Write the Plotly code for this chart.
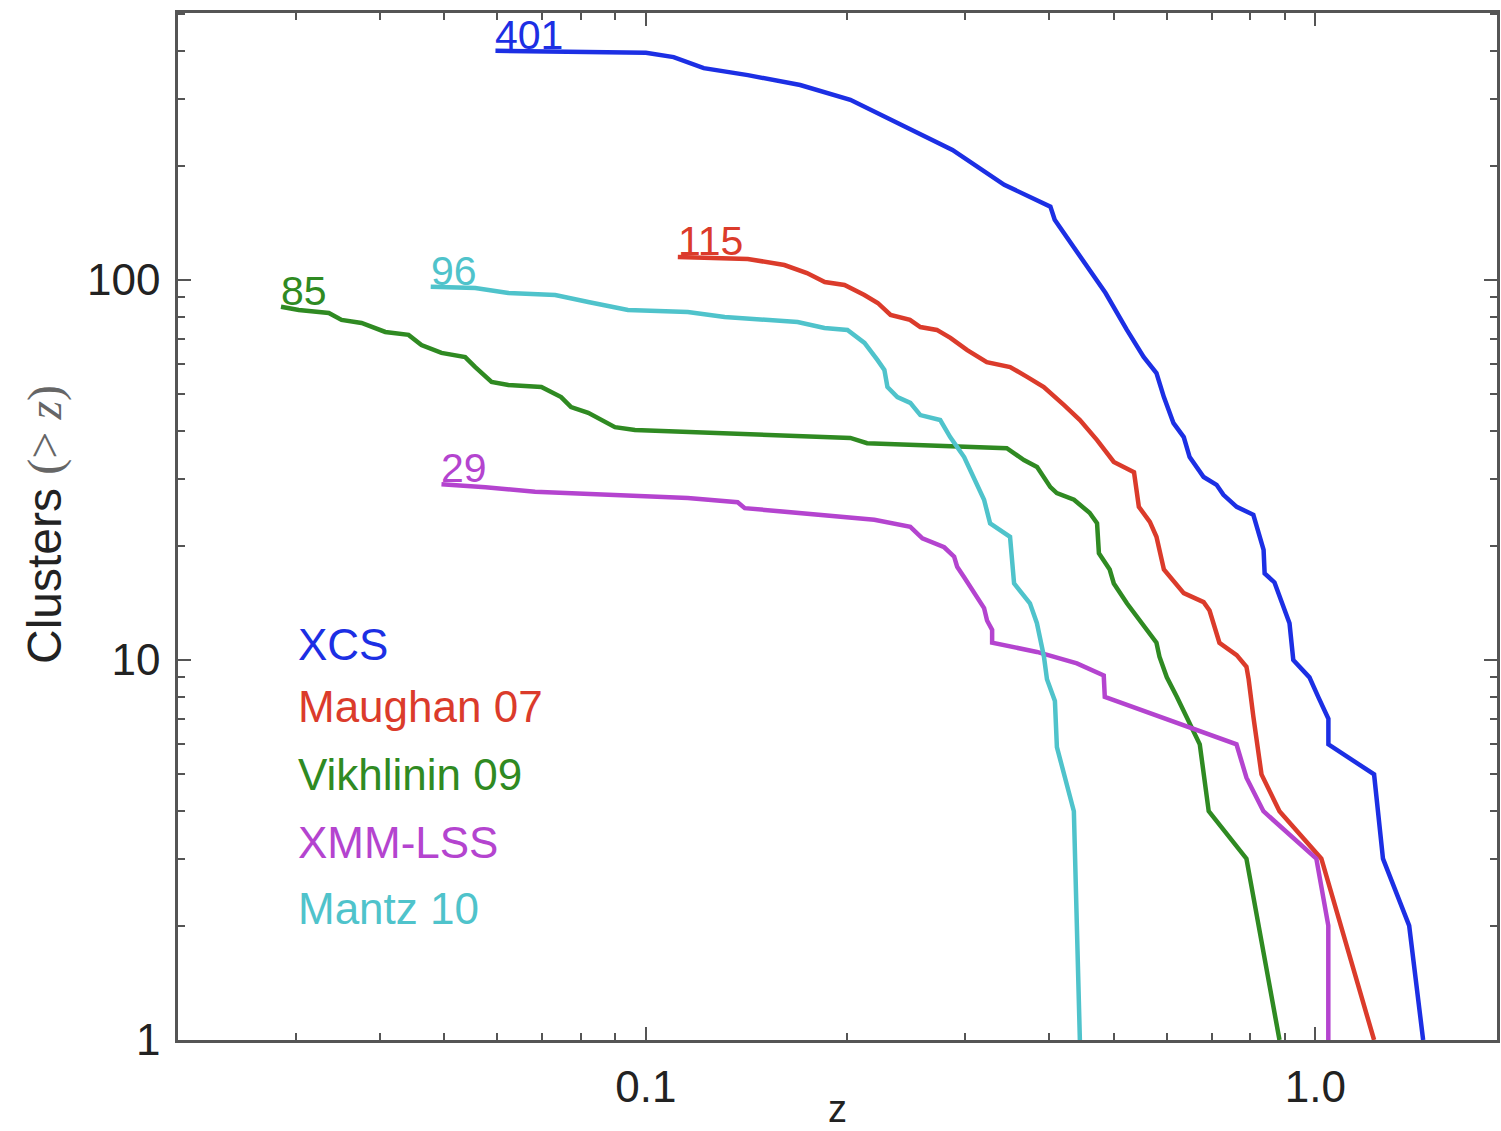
import math
import plotly.graph_objects as go

# ---------------- data ----------------
xcs_z = [0.0596, 0.100, 0.110, 0.122, 0.142, 0.170, 0.202, 0.241, 0.287, 0.343,
         0.402, 0.408, 0.453, 0.486, 0.523, 0.554, 0.579, 0.594, 0.614, 0.636,
         0.649, 0.681, 0.712, 0.729, 0.763, 0.808, 0.837, 0.840, 0.869, 0.915,
         0.927, 0.980, 1.010, 1.046, 1.046, 1.224, 1.262, 1.381, 1.449]
xcs_n = [401, 396, 386, 361, 346, 326, 298, 256, 220, 178,
         156, 144, 111, 92.4, 73.9, 62.7, 56.9, 49.2, 42.0, 38.6,
         34.2, 30.3, 28.9, 27.2, 25.3, 24.1, 19.5, 16.9, 16.0, 12.5,
         10, 9, 8, 7, 6, 5, 3, 2, 1]

maughan_z = [0.1116, 0.142, 0.161, 0.174, 0.185, 0.198, 0.212, 0.222, 0.232, 0.248,
             0.257, 0.272, 0.285, 0.302, 0.323, 0.350, 0.371, 0.393, 0.421, 0.445,
             0.472, 0.500, 0.536, 0.545, 0.566, 0.579, 0.594, 0.636, 0.681, 0.695,
             0.719, 0.763, 0.789, 0.795, 0.808, 0.831, 0.884, 1.021, 1.224]
maughan_n = [115, 113.6, 109.5, 104.3, 98.8, 97.0, 91.3, 87.0, 80.9, 78.5,
             75.2, 73.9, 70.4, 65.4, 60.8, 59.0, 55.6, 52.3, 46.9, 42.8,
             37.9, 33.2, 31.2, 25.3, 23.1, 21.1, 17.3, 15.0, 14.2, 13.5,
             11.1, 10.3, 9.6, 8.9, 7.1, 5.0, 4.0, 3.0, 1]

vikh_z = [0.0285, 0.0303, 0.0336, 0.0351, 0.0376, 0.0408, 0.0442, 0.0462, 0.0495, 0.0537,
          0.0556, 0.0588, 0.0623, 0.0698, 0.0747, 0.0773, 0.0820, 0.0899, 0.0963, 0.1155,
          0.202, 0.214, 0.346, 0.367, 0.384, 0.402, 0.411, 0.436, 0.460, 0.472,
          0.475, 0.493, 0.500, 0.523, 0.547, 0.579, 0.585, 0.600, 0.621, 0.636,
          0.672, 0.693, 0.789, 0.884]
vikh_n = [85, 83.4, 81.9, 78.5, 77.1, 73.0, 71.7, 67.4, 64.3, 62.7,
          59.0, 53.9, 52.9, 52.3, 49.2, 46.3, 44.7, 41.0, 40.3, 39.8,
          38.4, 37.2, 36.1, 33.6, 32.2, 28.5, 27.5, 26.4, 24.4, 22.9,
          19.1, 17.3, 15.9, 14.1, 12.7, 11.1, 10.2, 9.0, 8.0, 7.3,
          6.0, 4.0, 3.0, 1]

xmm_z = [0.0495, 0.0576, 0.0683, 0.0857, 0.1155, 0.1371, 0.1405, 0.2194, 0.2483, 0.2588,
         0.2790, 0.2887, 0.2917, 0.2988, 0.3125, 0.3200, 0.3233, 0.3290, 0.3290, 0.3838,
         0.4404, 0.4830, 0.4847, 0.7625, 0.7891, 0.8365, 1.0035, 1.0457, 1.0457]
xmm_n = [29, 28.5, 27.7, 27.2, 26.7, 26.0, 25.1, 23.4, 22.4, 20.9,
         19.8, 18.7, 17.6, 16.5, 14.6, 13.7, 12.7, 12.0, 11.1, 10.5,
         9.8, 9.1, 8.0, 6.0, 4.9, 4.0, 3.0, 2.0, 1]

mantz_z = [0.0477, 0.0556, 0.0623, 0.0732, 0.0820, 0.0940, 0.1155, 0.1311, 0.1685, 0.1848,
           0.2000, 0.2121, 0.2217, 0.2271, 0.2295, 0.2375, 0.2483, 0.2570, 0.2752, 0.2848,
           0.2988, 0.3093, 0.3200, 0.3267, 0.3499, 0.3548, 0.3747, 0.3838, 0.3932, 0.3973,
           0.4083, 0.4111, 0.4358, 0.4449]
mantz_n = [96, 95.3, 92.4, 91.3, 87.5, 83.4, 82.4, 79.9, 77.5, 74.8,
           73.9, 68.3, 61.6, 58.0, 52.3, 49.2, 47.5, 44.1, 42.8, 38.6,
           34.2, 29.8, 26.4, 22.9, 21.1, 15.9, 14.1, 12.5, 10.2, 8.9,
           7.8, 5.9, 4, 1]

series_names = ["XCS", "Maughan 07", "Vikhlinin 09", "XMM-LSS", "Mantz 10"]
series_colors = ["#1c2fe4", "#db3b2b", "#2f8a22", "#b444cf", "#4fc3cb"]
series_z = [xcs_z, maughan_z, vikh_z, xmm_z, mantz_z]
series_n = [xcs_n, maughan_n, vikh_n, xmm_n, mantz_n]
start_labels = ["401", "115", "85", "29", "96"]

x_major_vals = [0.1, 1.0]
x_major_text = ["0.1", "1.0"]
x_minor_vals = [0.02, 0.03, 0.04, 0.05, 0.06, 0.07, 0.08, 0.09,
                0.2, 0.3, 0.4, 0.5, 0.6, 0.7, 0.8, 0.9]
y_major_vals = [1, 10, 100]
y_major_text = ["1", "10", "100"]
y_minor_vals = [2, 3, 4, 5, 6, 7, 8, 9, 20, 30, 40, 50, 60, 70, 80, 90,
                200, 300, 400, 500]

# ---------------- figure ----------------
FONT = "Liberation Sans, Arial, Helvetica, sans-serif"
fig = go.Figure()

for name, col, zs, ns in zip(series_names, series_colors, series_z, series_n):
    fig.add_trace(go.Scatter(x=zs, y=ns, mode="lines", name=name,
                             line=dict(color=col, width=4.5), showlegend=False))

annotations = []
# start-count labels at the first point of each curve
for col, zs, ns, lab in zip(series_colors, series_z, series_n, start_labels):
    annotations.append(dict(x=math.log10(zs[0]), y=math.log10(ns[0]),
                            xref="x", yref="y", text=lab, showarrow=False,
                            xanchor="left", yanchor="bottom", yshift=-9, xshift=-2,
                            font=dict(family=FONT, size=41, color=col)))

# coloured text legend
legend_y_px = [644, 706, 774, 842, 908]
plot_top, plot_bottom, plot_left, plot_w = 13, 1040, 178, 1322
for name, col, ypx in zip(series_names, series_colors, legend_y_px):
    annotations.append(dict(x=(296 - plot_left) / plot_w, y=(plot_bottom - ypx) / (plot_bottom - plot_top),
                            xref="paper", yref="paper", text=name, showarrow=False,
                            xanchor="left", yanchor="middle",
                            font=dict(family=FONT, size=44, color=col)))

# axis titles
annotations.append(dict(x=0.5, y=0, xref="paper", yref="paper", text="z", showarrow=False,
                        xanchor="center", yanchor="middle", yshift=-69,
                        font=dict(family=FONT, size=38, color="#222")))
annotations.append(dict(x=0, y=(plot_bottom - 525) / (plot_bottom - plot_top), xref="paper", yref="paper",
                        text="Clusters <span style='font-family:Liberation Serif, Times New Roman, serif;color:#666'>(&gt; <i>z</i>)</span>",
                        textangle=-90, showarrow=False, xanchor="center", yanchor="middle",
                        xshift=-133, font=dict(family=FONT, size=48, color="#222")))

axis_common = dict(type="log", showgrid=False, zeroline=False, showline=True,
                   linecolor="#555", linewidth=2.5, mirror="allticks",
                   ticks="inside", ticklen=13, tickwidth=2, tickcolor="#555",
                   tickfont=dict(family=FONT, size=44, color="#222"),
                   tickmode="array")

fig.update_layout(
    width=1501, height=1131,
    margin=dict(l=178, r=1, t=13, b=91),
    paper_bgcolor="white", plot_bgcolor="white",
    annotations=annotations,
    xaxis=dict(axis_common, range=[-1.699, 0.2714],
               tickvals=x_major_vals, ticktext=x_major_text, ticklabelstandoff=6,
               minor=dict(tickmode="array", tickvals=x_minor_vals, ticks="inside",
                          ticklen=7, tickwidth=1.5, tickcolor="#555")),
    yaxis=dict(axis_common, range=[0, 2.7026],
               tickvals=y_major_vals, ticktext=y_major_text, ticklabelstandoff=6,
               minor=dict(tickmode="array", tickvals=y_minor_vals, ticks="inside",
                          ticklen=7, tickwidth=1.5, tickcolor="#555")),
)

fig.write_html("out.html")
